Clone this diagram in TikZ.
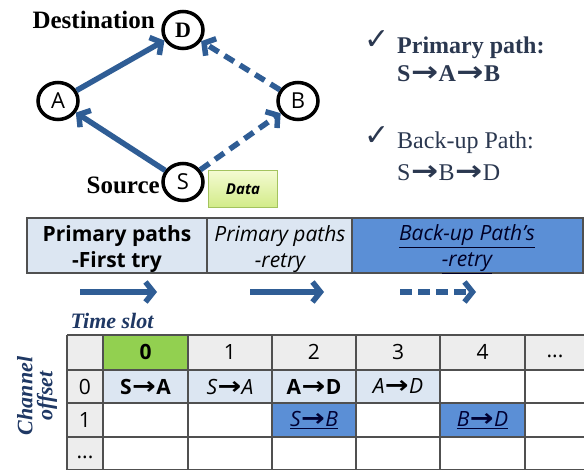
\documentclass[tikz,border=0pt]{standalone}
\usepackage{fontspec}
\setmainfont{Liberation Serif}
\setsansfont{Open Sans}
\newfontfamily\dejavu{DejaVu Sans}
\usetikzlibrary{arrows.meta,shapes.geometric}
\definecolor{arrowblue}{HTML}{2F5D95}
\definecolor{lightblue}{HTML}{DCE6F2}
\definecolor{midblue}{HTML}{5B8FD6}
\definecolor{slotgreen}{HTML}{92D050}
\definecolor{headgray}{HTML}{EDEDED}
\definecolor{txtdark}{HTML}{2B3850}
\definecolor{navy}{HTML}{1F3864}
\definecolor{gridline}{HTML}{505050}
\definecolor{datatop}{HTML}{F4FBD2}
\definecolor{databot}{HTML}{D2EB88}
\definecolor{databorder}{HTML}{A3C35E}
\newcommand{\fs}[1]{\fontsize{#1}{#1}\selectfont}
\newcommand{\rar}{{\kern0.02em\scalebox{1.35}[1.15]{\dejavu\bfseries →}\kern0.02em}}
\tikzset{
  netnode/.style={ellipse, draw=black, line width=3.5pt, minimum width=40pt, minimum height=37pt, inner sep=0pt, fill=white},
  link/.style={draw=arrowblue, line width=5.5pt, -{Straight Barb[length=8pt,width=20pt]}},
  dlink/.style={link, dash pattern=on 11pt off 7pt},
  bigtxt/.style={font=\fs{25}\bfseries, inner sep=0pt},
  righttxt/.style={anchor=west, inner sep=0pt, text=txtdark},
  barcell/.style={draw=gridline, line width=1.3pt},
  cell/.style={draw=gridline, line width=1.3pt},
  celltxt/.style={font=\sffamily\fs{21}, inner sep=0pt},
}
\begin{document}
\begin{tikzpicture}[x=1pt,y=-1pt]
\useasboundingbox (0,0) rectangle (584,470);
\fill[white] (0,0) rectangle (584,470);

% network
\node[netnode, font=\fs{22}\bfseries] (D) at (183,30) {D};
\node[netnode, font=\sffamily\fs{22}] (A) at (58,101) {A};
\node[netnode, font=\sffamily\fs{22}] (B) at (298,101) {B};
\node[netnode, font=\sffamily\fs{22}] (S) at (183,182) {S};
\draw[link] (S) -- (A);
\draw[link] (A) -- (D);
\draw[dlink] (S) -- (B);
\draw[dlink] (B) -- (D);
\node[bigtxt, anchor=east] (dest) at (155,20) {Destination};
\node[bigtxt, anchor=east] (src) at (160,185) {Source};
\node[draw=databorder, line width=1pt, top color=datatop, bottom color=databot, minimum width=69pt, minimum height=37pt, font=\sffamily\bfseries\itshape\fs{15}, inner sep=0pt] (data) at (243,189) {Data};

% right text
\node[righttxt, font=\dejavu\fs{30}] (ck1) at (364,40) {✓};
\node[righttxt, font=\fs{24}\bfseries] (pp) at (397,48) {Primary path:};
\node[righttxt, font=\fs{24}\bfseries] (pps) at (397,74) {S\rar A\rar B};
\node[righttxt, font=\dejavu\fs{30}] (ck2) at (364,136) {✓};
\node[righttxt, font=\fs{24}] (bp) at (397,143) {Back-up Path:};
\node[righttxt, font=\fs{24}] (bps) at (397,173) {S\rar B\rar D};

% timeline bar
\fill[lightblue] (27,218) rectangle (352,273);
\fill[midblue] (352,218) rectangle (583,273);
\draw[barcell] (27,218) rectangle (583,273);
\draw[barcell] (207,218) -- (207,273);
\draw[barcell] (352,218) -- (352,273);
\node[celltxt, font=\sffamily\bfseries\fs{21}, align=center] (c1) at (117,249) {Primary paths\\[5pt]-First try};
\node[celltxt, font=\sffamily\itshape\fs{21}, align=center] (c2) at (280,249) {Primary paths\\[5pt]-retry};
\node[celltxt, font=\sffamily\itshape\fs{21}, align=center, text=black!85!blue] (c3) at (467,249) {\underline{Back-up Path's}\\[5pt]\underline{-retry}};

\coordinate (a1s) at (80,292); \coordinate (a1e) at (157,292);
\coordinate (a2s) at (250,292); \coordinate (a2e) at (324,292);
\coordinate (a3s) at (400,292); \coordinate (a3e) at (476,292);
\draw[link] (a1s) -- (a1e);
\draw[link] (a2s) -- (a2e);
\draw[link, dash pattern=on 12pt off 6pt] (a3s) -- (a3e);

% labels
\node[font=\fs{22}\bfseries\itshape, text=navy, inner sep=0pt] (ts) at (112,321) {Time slot};
\node[font=\fs{22}\bfseries\itshape, text=navy, inner sep=0pt, rotate=90, align=center] (co) at (37,396) {Channel\\[-2pt]offset};

% table fills
\fill[headgray] (67,335) rectangle (584,370);
\fill[headgray] (67,335) rectangle (103,470);
\fill[slotgreen] (103,335) rectangle (188,370);
\fill[lightblue] (103,370) rectangle (440,403);
\fill[midblue] (272,403) rectangle (356,437);
\fill[midblue] (440,403) rectangle (525,437);
% grid
\foreach \x in {67,103,188,272,356,440,525} \draw[cell] (\x,335) -- (\x,470);
\foreach \y in {335,370,403,437} \draw[cell] (67,\y) -- (584,\y);
\draw[cell] (67,470) -- (584,470);

% header row
\node[celltxt, font=\sffamily\bfseries\fs{21}] (h0) at (145.5,352) {0};
\node[celltxt] (h1) at (230,352) {1};
\node[celltxt] (h2) at (314,352) {2};
\node[celltxt] (h3) at (398,352) {3};
\node[celltxt] (h4) at (482.5,352) {4};
\node[celltxt] (h5) at (555,356) {...};
% row headers
\node[celltxt] (r0) at (85,386.5) {0};
\node[celltxt] (r1) at (85,420) {1};
\node[celltxt] (r2) at (85,457) {...};
% row 0
\node[celltxt, font=\sffamily\bfseries\fs{21}] (x00) at (145.5,386.5) {S\rar A};
\node[celltxt, font=\sffamily\itshape\fs{21}] (x01) at (230,386.5) {S\rar A};
\node[celltxt, font=\sffamily\bfseries\fs{21}] (x02) at (314,386.5) {A\rar D};
\node[celltxt, font=\sffamily\itshape\fs{21}] (x03) at (398,386.5) {A\rar D};
% row 1
\node[celltxt, font=\sffamily\itshape\fs{21}, text=black!80!blue] (x12) at (314,420) {\underline{S\rar B}};
\node[celltxt, font=\sffamily\itshape\fs{21}, text=black!80!blue] (x14) at (482.5,420) {\underline{B\rar D}};
\end{tikzpicture}
\end{document}
